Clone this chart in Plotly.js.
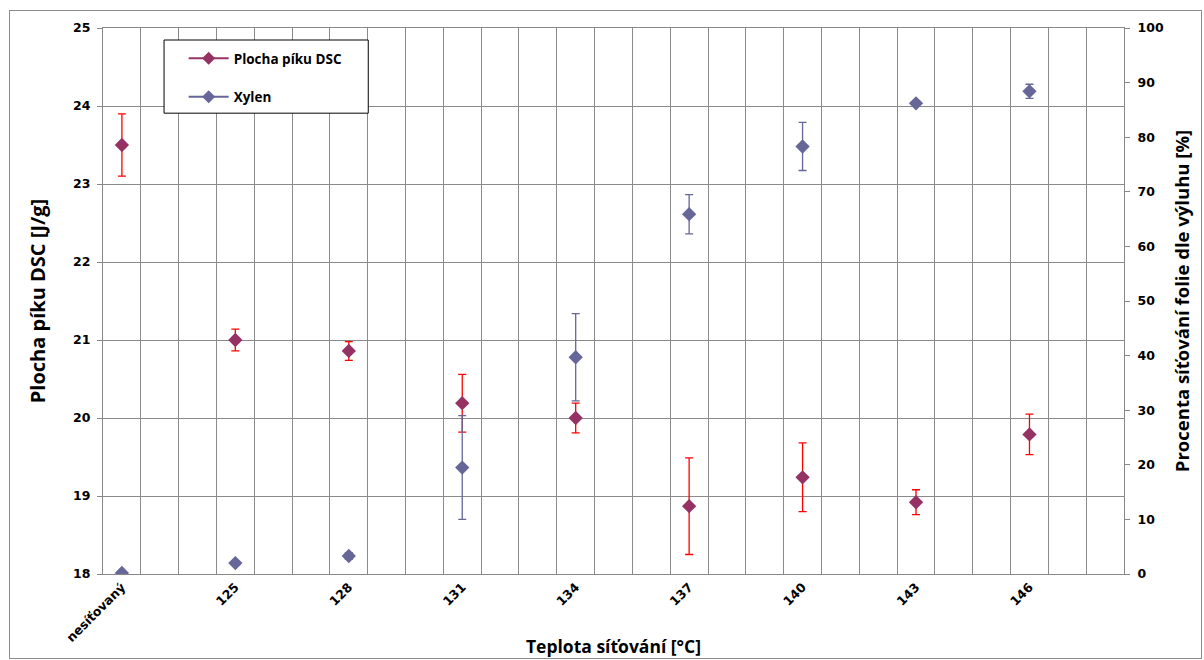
<!DOCTYPE html>
<html>
<head>
<meta charset="utf-8">
<script src="https://cdn.plot.ly/plotly-3.0.1.min.js"></script>
<style>
  html, body { margin: 0; padding: 0; background: #fff; }
  #frame { position: absolute; left: 9px; top: 10px; width: 1191px; height: 647px; border: 1px solid #8c8c8c; }
  #chart { position: absolute; left: 0; top: 0; width: 1191px; height: 647px; }
</style>
</head>
<body>
<div id="frame"><div id="chart"></div></div>
<script>
// Categories (x axis)
const categories = ["nesíťovaný", "125", "128", "131", "134", "137", "140", "143", "146"];
// Plocha píku DSC [J/g] (left axis) and its error
const dscValues = [23.50, 21.00, 20.86, 20.19, 20.00, 18.87, 19.24, 18.92, 19.79];
const dscErrors = [0.40, 0.14, 0.12, 0.37, 0.19, 0.62, 0.44, 0.16, 0.26];
// Xylen – procenta síťování [%] (right axis) and its error
const xylenValues = [0.2, 2.0, 3.3, 19.5, 39.7, 65.9, 78.3, 86.2, 88.4];
const xylenErrors = [0.0, 0.4, 0.6, 9.5, 8.0, 3.6, 4.4, 0.5, 1.3];

const seriesNames = ["Plocha píku DSC", "Xylen"];
const leftTitle = "Plocha píku DSC [J/g]";
const rightTitle = "Procenta síťování folie dle výluhu [%]";
const xTitle = "Teplota síťování [°C]";

// category index positions; each category spans 3 sub-slots (Excel-style grid)
const xIdx = categories.map((_, i) => i);
const slotsPerCat = 3;
const xMin = -0.5 / slotsPerCat;
const xMax = categories.length - 0.5 / slotsPerCat;
const minorGrid = [];
for (let k = 0; k <= categories.length * slotsPerCat; k++) minorGrid.push(xMin + k / slotsPerCat);

const dscColor = "#953163";
const dscErrColor = "#ff0000";
const xyColor = "#666699";

const tickFont = {family: "DejaVu Sans", size: 12.5, color: "#000", weight: "bold"};
const titleFont = {family: "Open Sans", size: 17.5, color: "#000", weight: "bold"};

const traces = [
  {
    x: xIdx, y: dscValues, type: "scatter", mode: "markers", name: seriesNames[0],
    showlegend: false, yaxis: "y",
    marker: {symbol: "diamond", size: 11, color: dscColor},
    error_y: {type: "data", array: dscErrors, visible: true, color: dscErrColor, thickness: 1.3, width: 4}
  },
  {
    x: xIdx, y: xylenValues, type: "scatter", mode: "markers", name: seriesNames[1],
    showlegend: false, yaxis: "y2",
    marker: {symbol: "diamond", size: 11, color: xyColor},
    error_y: {type: "data", array: xylenErrors, visible: true, color: xyColor, thickness: 1.3, width: 4}
  },
  {
    x: [null], y: [null], type: "scatter", mode: "lines+markers", name: seriesNames[0],
    legendgroup: "a", line: {color: "#993366", width: 2},
    marker: {symbol: "diamond", size: 10, color: dscColor}
  },
  {
    x: [null], y: [null], type: "scatter", mode: "lines+markers", name: seriesNames[1],
    legendgroup: "b", line: {color: xyColor, width: 2},
    marker: {symbol: "diamond", size: 10, color: xyColor}
  }
];

const layout = {
  width: 1191, height: 647,
  margin: {l: 93, r: 77, t: 17, b: 84},
  paper_bgcolor: "#fff", plot_bgcolor: "#fff",
  showlegend: true,
  legend: {
    x: 0.079, y: 0.9725, xanchor: "left", yanchor: "top",
    bgcolor: "rgba(0,0,0,0)", borderwidth: 0,
    font: {family: "Open Sans", size: 13.5, color: "#000", weight: "bold"},
    tracegroupgap: 18, itemwidth: 40
  },
  shapes: [
    {type: "rect", xref: "paper", yref: "paper", x0: 0.0598, x1: 0.2598, y0: 0.844, y1: 0.978,
     line: {color: "#000", width: 1}, fillcolor: "#fff", layer: "above"}
  ],
  xaxis: {
    range: [xMin, xMax], tickmode: "array", tickvals: xIdx, ticktext: categories,
    tickangle: -45, tickfont: tickFont, showgrid: false, zeroline: false,
    showline: true, linecolor: "#888", mirror: true, ticks: "",
    minor: {tickmode: "array", tickvals: minorGrid, showgrid: true, gridcolor: "#8a8a8a", gridwidth: 1, ticks: ""},
    title: {text: xTitle, font: titleFont, standoff: 10}
  },
  yaxis: {
    range: [18, 25], dtick: 1, tickfont: tickFont, showgrid: true, gridcolor: "#8a8a8a",
    zeroline: false, showline: true, linecolor: "#888", ticks: "outside", ticklen: 5, tickcolor: "#888",
    ticklabelstandoff: 4,
    title: {text: leftTitle, font: {family: "Open Sans", size: 20, color: "#000", weight: "bold"}, standoff: 22}
  },
  yaxis2: {
    range: [0, 100], dtick: 10, overlaying: "y", side: "right", tickfont: tickFont,
    showgrid: false, zeroline: false, showline: true, linecolor: "#888",
    ticks: "outside", ticklen: 5, tickcolor: "#888", ticklabelstandoff: 5,
    title: {text: rightTitle, font: {family: "Open Sans", size: 18.5, color: "#000", weight: "bold"}, standoff: 13}
  }
};

Plotly.newPlot("chart", traces, layout, {displayModeBar: false, staticPlot: true});
</script>
</body>
</html>
